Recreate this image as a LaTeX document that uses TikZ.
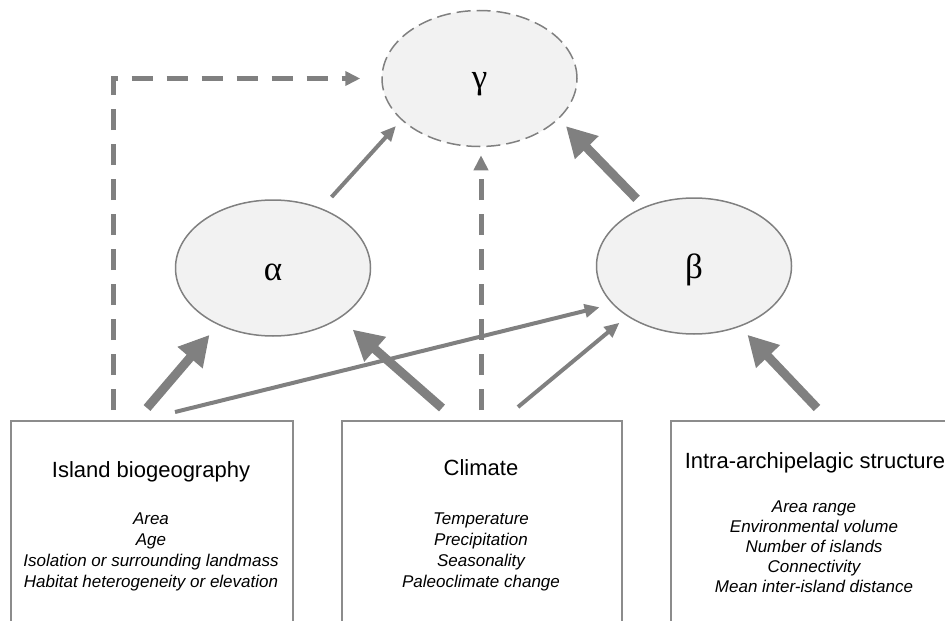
\documentclass[tikz,border=0pt]{standalone}
\usepackage{fontspec}
\setmainfont{Liberation Sans}
\newfontfamily\greekfont{Liberation Serif}
\usetikzlibrary{shapes.geometric,arrows.meta}
\definecolor{arr}{HTML}{808080}
\definecolor{ellfill}{HTML}{F2F2F2}
\definecolor{boxline}{HTML}{8C8C8C}
\begin{document}
\begin{tikzpicture}[x=1pt,y=-1pt,
  ell/.style={ellipse, draw=arr, fill=ellfill, line width=1.5pt, inner sep=0pt,
    minimum width=195pt, minimum height=136pt},
  greek/.style={font=\greekfont\fontsize{35}{40}\selectfont, inner sep=0pt},
  boxst/.style={draw=boxline, line width=1.5pt, fill=white, inner sep=0pt,
    minimum height=230pt},
  head/.style={font=\fontsize{22}{26}\selectfont, inner sep=0pt},
  items/.style={font=\itshape\fontsize{17}{20.7}\selectfont, align=center, inner sep=0pt},
  thickarr/.style={draw=arr, line width=9pt, -{Triangle[length=30pt,width=31pt]}},
  thinarr/.style={draw=arr, line width=4pt, -{Triangle[length=15pt,width=13pt]}},
  dasharr/.style={draw=arr, line width=5pt, dash pattern=on 21pt off 14pt,
    -{Triangle[length=15pt,width=14pt]}}
]
\useasboundingbox (0,0) rectangle (945,621);

% boxes
\node[boxst, minimum width=282pt, anchor=north west] (ib) at (10,420) {};
\node[boxst, minimum width=280pt, anchor=north west] (cl) at (341,420) {};
\node[boxst, minimum width=290pt, anchor=north west] (ia) at (670,420) {};

\node[head, anchor=base] (ibh) at (151,477) {Island biogeography};
\node[items, anchor=base] (ibi) at (151,587) {Area\\Age\\Isolation or surrounding landmass\\Habitat heterogeneity or elevation};
\node[head, anchor=base] (clh) at (481,475) {Climate};
\node[items, anchor=base] (cli) at (481,587) {Temperature\\Precipitation\\Seasonality\\Paleoclimate change};
\node[head, anchor=base] (iah) at (815,468) {Intra-archipelagic structure};
\node[items, anchor=base, font=\itshape\fontsize{17}{20}\selectfont] (iai) at (814,592) {Area range\\Environmental volume\\Number of islands\\Connectivity\\Mean inter-island distance};

% ellipses
\node[ell, dashed, dash pattern=on 14pt off 6pt] (gamma) at (479.5,78.5) {};
\node[ell] (alpha) at (273,268) {};
\node[ell] (beta) at (694,266) {};
\node[greek, anchor=base] (gl) at (479.5,88) {γ};
\node[greek, anchor=base] (al) at (273,280) {α};
\node[greek, anchor=base] (bl) at (694,278) {β};

% start points
\coordinate (s1) at (147,408);
\coordinate (s2) at (442,408);
\coordinate (s3) at (175,412);
\coordinate (s4) at (518,407);
\coordinate (s5) at (817,408);
\coordinate (s8) at (113,410);
\coordinate (s9) at (481,410);

% arrows
\draw[dasharr, shorten >=21pt] (s8) |- (gamma.west);
\draw[dasharr, shorten >=8pt] (s9) -- (s9 |- gamma.south);
\draw[thickarr, shorten >=13pt] (s1) -- (alpha.226);
\draw[thickarr, shorten >=17pt] (s2) -- (alpha.323);
\draw[thinarr, shorten >=13pt] (s3) -- (beta.205.3);
\draw[thinarr, shorten >=10pt] (s4) -- (beta.217);
\draw[thickarr, shorten >=11pt] (s5) -- (beta.307.5);
\draw[thinarr, shorten <=15pt, shorten >=8pt] (alpha.51) -- (gamma.208);
\draw[thickarr, shorten <=11pt, shorten >=10pt] (beta.130) -- (gamma.333);
\end{tikzpicture}
\end{document}
